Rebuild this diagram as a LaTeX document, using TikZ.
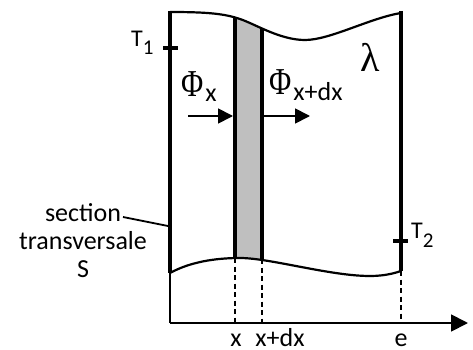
\documentclass[tikz,border=0pt]{standalone}
\usepackage{fontspec}
\setmainfont{Carlito}
\newfontfamily\greekfont{Liberation Serif}
\usepackage{graphicx}
\usetikzlibrary{arrows.meta,positioning}

\newcommand{\topedge}{(170,12) .. controls (210,12) and (225,14) .. (240,19) .. controls (255,24) and (280,40) .. (305,40) .. controls (330,40) and (370,18) .. (401,13)}
\newcommand{\botedge}{(401,271) .. controls (395,273) and (385,276) .. (370,276) .. controls (330,276) and (270,258) .. (240,258) .. controls (215,258) and (190,262) .. (170,273)}
\newcommand{\flux}{{\greekfont\fontsize{38}{40}\selectfont\scalebox{0.8}[1]{Φ}}\kern2pt}
\newcommand{\lowered}[2]{\raisebox{-#1}{#2}}

\begin{document}
\begin{tikzpicture}[
  x=1pt, y=-1pt,
  wall/.style={line width=3.2pt},
  edge/.style={line width=2.2pt},
  thinline/.style={line width=1.8pt},
  guide/.style={line width=2.4pt, dash pattern=on 5pt off 3.5pt},
  fluxarrow/.style={-{Triangle[length=15pt,width=15pt]}, line width=1.8pt},
  axisarrow/.style={-{Triangle[length=17pt,width=17pt]}, line width=1.8pt},
  txt/.style={font=\fontsize{26}{28}\selectfont, inner sep=0pt},
  temp/.style={font=\fontsize{24}{26}\selectfont, inner sep=0pt},
  greek/.style={font=\greekfont\fontsize{40}{42}\selectfont, inner sep=0pt}
]
\useasboundingbox (0,0) rectangle (473,350);

\coordinate (tl) at (170,11);
\coordinate (bl) at (170,273);
\coordinate (tr) at (401,11);
\coordinate (br) at (401,271);
\coordinate (origin) at (170,323);
\coordinate (axisend) at (468,323);

% slice between x and x+dx
\begin{scope}
  \clip \topedge -- \botedge -- cycle;
  \fill[gray!50] (235,0) rectangle (262,300);
  \draw[wall] (235,0) -- (235,300);
  \draw[wall] (262,0) -- (262,300);
\end{scope}

% wall outline
\draw[edge] \topedge;
\draw[edge] \botedge;
\draw[wall] (tl) -- (bl);
\draw[wall] (tr) -- (br);
\draw[thinline] (bl) -- (origin);
\draw[axisarrow] (origin) -- (axisend);

% projections on the axis
\draw[guide] (235,258) -- (235,323);
\draw[guide] (262,259) -- (262,323);
\draw[guide] (br) -- (401,323);

\node[txt, anchor=base] (xlabel) at (236,346) {x};
\node[txt, anchor=base] (xdxlabel) at (280,346) {x+dx};
\node[txt, anchor=base] (elabel) at (401,346) {e};

% temperatures
\coordinate (t1a) at (163,48);
\coordinate (t1b) at (178,48);
\coordinate (t2a) at (393,241);
\coordinate (t2b) at (408,241);
\draw[wall] (t1a) -- (t1b);
\draw[wall] (t2a) -- (t2b);
\node[temp, anchor=base west] (tone) at (131,47) {T\lowered{8pt}{\fontsize{21}{21}\selectfont 1}};
\node[temp, anchor=base west] (ttwo) at (411,238) {T\lowered{9pt}{\fontsize{21}{21}\selectfont 2}};

% fluxes
\node[txt, anchor=base west] (phix) at (181,97) {\flux\lowered{5pt}{x}};
\node[txt, anchor=base west] (phixdx) at (269,95) {\flux\lowered{6pt}{x+dx}};
\coordinate (inA) at (188,116);
\coordinate (inB) at (233,116);
\coordinate (outA) at (262,116);
\coordinate (outB) at (310,116);
\draw[fluxarrow] (inA) -- (inB);
\draw[fluxarrow] (outA) -- (outB);

\node[greek, anchor=base west] (lambda) at (360,72) {λ};

% cross section
\node[txt, align=center] (section) at (83,241) {section\\transversale\\S};
\coordinate (leadA) at (123,217);
\coordinate (leadB) at (168,226);
\draw[thinline] (leadA) -- (leadB);

\end{tikzpicture}
\end{document}
